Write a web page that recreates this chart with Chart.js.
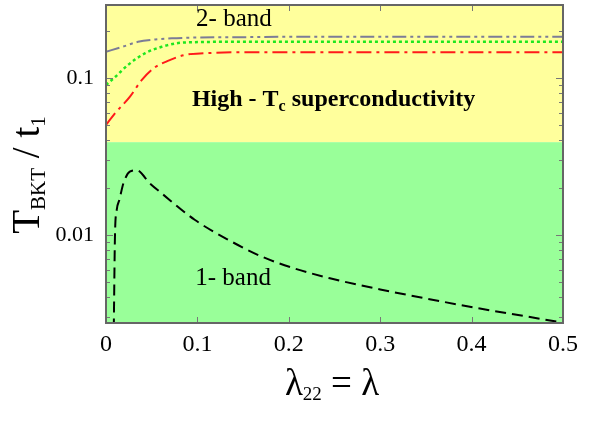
<!DOCTYPE html>
<html><head><meta charset="utf-8">
<script src="https://cdn.jsdelivr.net/npm/chart.js@4/dist/chart.umd.min.js"></script>
<style>html,body{margin:0;padding:0;background:#fff}#wrap{width:607px;height:422px;position:relative}</style>
</head><body><div id="wrap"><canvas id="c"></canvas></div>
<script>
// ---- data ----
const xTickValues = [0, 0.1, 0.2, 0.3, 0.4, 0.5];
const yTickLabels = [0.01, 0.1];
const regionBoundary = 0.039;

const grayX = [0, 0.018, 0.035, 0.054, 0.072, 0.1, 0.15, 0.2, 0.3, 0.4, 0.5];
const grayY = [0.147, 0.158, 0.170, 0.176, 0.179, 0.181, 0.182, 0.183, 0.183, 0.183, 0.183];

const greenX = [0, 0.01, 0.024, 0.043, 0.061, 0.079, 0.097, 0.13, 0.2, 0.3, 0.4, 0.5];
const greenY = [0.0903, 0.1015, 0.121, 0.144, 0.158, 0.167, 0.169, 0.170, 0.170, 0.170, 0.170, 0.170];

const redX = [0, 0.01, 0.026, 0.039, 0.054, 0.067, 0.086, 0.108, 0.15, 0.2, 0.3, 0.4, 0.5];
const redY = [0.0502, 0.0598, 0.0757, 0.097, 0.1175, 0.128, 0.140, 0.1437, 0.146, 0.146, 0.146, 0.146, 0.146];

const oneBandX = [0.0085, 0.0098, 0.0117, 0.0146, 0.019, 0.026, 0.0336, 0.048, 0.061, 0.097, 0.134, 0.170, 0.207, 0.245, 0.300, 0.354, 0.409, 0.464, 0.497];
const oneBandY = [0.0025, 0.0098, 0.0144, 0.0167, 0.0213, 0.0253, 0.0258, 0.0213, 0.0184, 0.0125, 0.0093, 0.0073, 0.0061, 0.0053, 0.0045, 0.0039, 0.0034, 0.0030, 0.00278];

const labelTwoBand = "2- band";
const labelOneBand = "1- band";

// ---- helpers ----
const SERIF = '"Liberation Serif", "DejaVu Serif", serif';
const pts = (xs, ys) => xs.map((x, i) => ({x: x, y: ys[i]}));

const decorPlugin = {
  id: 'decor',
  beforeDatasetsDraw(chart) {
    const {ctx, chartArea: a, scales: {y}} = chart;
    const yb = y.getPixelForValue(regionBoundary);
    ctx.save();
    ctx.fillStyle = '#ffff9c';
    ctx.fillRect(a.left, a.top, a.right - a.left, yb - a.top);
    ctx.fillStyle = '#99ff99';
    ctx.fillRect(a.left, yb, a.right - a.left, a.bottom - yb);
    ctx.restore();
  },
  afterDatasetsDraw(chart) {
    const {ctx, chartArea: a, scales: {x, y}} = chart;
    ctx.save();
    // inner ticks
    ctx.strokeStyle = '#777';
    ctx.lineWidth = 1;
    ctx.beginPath();
    xTickValues.forEach(v => {
      const px = Math.round(x.getPixelForValue(v)) + 0.5;
      ctx.moveTo(px, a.bottom); ctx.lineTo(px, a.bottom - 6);
      ctx.moveTo(px, a.top); ctx.lineTo(px, a.top + 6);
    });
    [0.001, 0.01, 0.1].forEach(dec => {
      for (let m = 1; m <= 9; m++) {
        const v = dec * m;
        if (v < y.min || v > y.max) continue;
        const py = Math.round(y.getPixelForValue(v)) + 0.5;
        const len = m === 1 ? 7 : 4;
        ctx.moveTo(a.left, py); ctx.lineTo(a.left + len, py);
        ctx.moveTo(a.right, py); ctx.lineTo(a.right - len, py);
      }
    });
    ctx.stroke();
    // frame
    ctx.strokeStyle = '#666';
    ctx.lineWidth = 2;
    ctx.strokeRect(a.left, a.top, a.right - a.left, a.bottom - a.top);

    // annotations
    ctx.fillStyle = '#000';
    ctx.textBaseline = 'middle';
    ctx.textAlign = 'center';
    ctx.font = '25px ' + SERIF;
    ctx.fillText(labelTwoBand, x.getPixelForValue(0.140), y.getPixelForValue(0.2376));
    ctx.fillText(labelOneBand, x.getPixelForValue(0.139), y.getPixelForValue(0.00532));

    // High - Tc superconductivity
    ctx.textAlign = 'left';
    let tx = x.getPixelForValue(0.094);
    const ty = y.getPixelForValue(0.0724);
    ctx.font = 'bold 24px ' + SERIF;
    ctx.fillText('High - T', tx, ty);
    tx += ctx.measureText('High - T').width;
    ctx.font = 'bold 16px ' + SERIF;
    ctx.fillText('c', tx, ty + 7);
    tx += ctx.measureText('c').width;
    ctx.font = 'bold 24px ' + SERIF;
    ctx.fillText(' superconductivity', tx, ty);

    // x title: λ22 = λ
    const parts = [['\u03bb', 37, 0], ['22', 19, 10], [' = \u03bb', 37, 0]];
    let w = 0;
    parts.forEach(p => { ctx.font = p[1] + 'px ' + SERIF; w += ctx.measureText(p[0]).width; });
    let cx = 332 - w / 2;
    parts.forEach(p => {
      ctx.font = p[1] + 'px ' + SERIF;
      ctx.fillText(p[0], cx, 385 + p[2]);
      cx += ctx.measureText(p[0]).width;
    });

    // y title: T_BKT / t_1 (rotated)
    ctx.translate(29, 175);
    ctx.rotate(-Math.PI / 2);
    const yparts = [['T', 39, 0], ['BKT', 21, 10], [' / t', 39, 0], ['1', 21, 10]];
    let yw = 0;
    yparts.forEach(p => { ctx.font = p[1] + 'px ' + SERIF; yw += ctx.measureText(p[0]).width; });
    let yx = -yw / 2;
    yparts.forEach(p => {
      ctx.font = p[1] + 'px ' + SERIF;
      ctx.fillText(p[0], yx, p[2]);
      yx += ctx.measureText(p[0]).width;
    });
    ctx.restore();
  }
};

new Chart(document.getElementById('c'), {
  type: 'line',
  data: {
    datasets: [
      {data: pts(grayX, grayY), borderColor: '#7c7c96', borderWidth: 2, borderDash: [14, 4, 3, 4, 3, 4]},
      {data: pts(greenX, greenY), borderColor: '#1ee61e', borderWidth: 2.5, borderDash: [3, 3]},
      {data: pts(redX, redY), borderColor: '#ff1a1a', borderWidth: 2, borderDash: [15, 5, 3, 5]},
      {data: pts(oneBandX, oneBandY), borderColor: '#000', borderWidth: 2, borderDash: [11, 6]}
    ].map(d => Object.assign(d, {pointRadius: 0, fill: false, cubicInterpolationMode: 'monotone'}))
  },
  options: {
    responsive: true,
    maintainAspectRatio: false,
    animation: false,
    layout: {padding: {top: 5, right: 44, left: 0, bottom: 0}},
    plugins: {legend: {display: false}, tooltip: {enabled: false}},
    scales: {
      x: {
        type: 'linear', min: 0, max: 0.5,
        afterBuildTicks: s => { s.ticks = xTickValues.map(v => ({value: v})); },
        afterFit: s => { s.height = 99; s.paddingLeft = 0; s.paddingRight = 0; },
        grid: {display: false, drawTicks: false},
        border: {display: false},
        ticks: {padding: 7, color: '#000', font: {family: SERIF, size: 24}, callback: v => String(v), maxRotation: 0}
      },
      y: {
        type: 'logarithmic', min: 0.00275, max: 0.2917,
        afterBuildTicks: s => { s.ticks = yTickLabels.map(v => ({value: v})); },
        afterFit: s => { s.width = 106; s.paddingTop = 0; s.paddingBottom = 0; },
        grid: {display: false, drawTicks: false},
        border: {display: false},
        ticks: {padding: 12, color: '#000', font: {family: SERIF, size: 22}, callback: v => String(v)}
      }
    }
  },
  plugins: [decorPlugin]
});
</script>
</body></html>
